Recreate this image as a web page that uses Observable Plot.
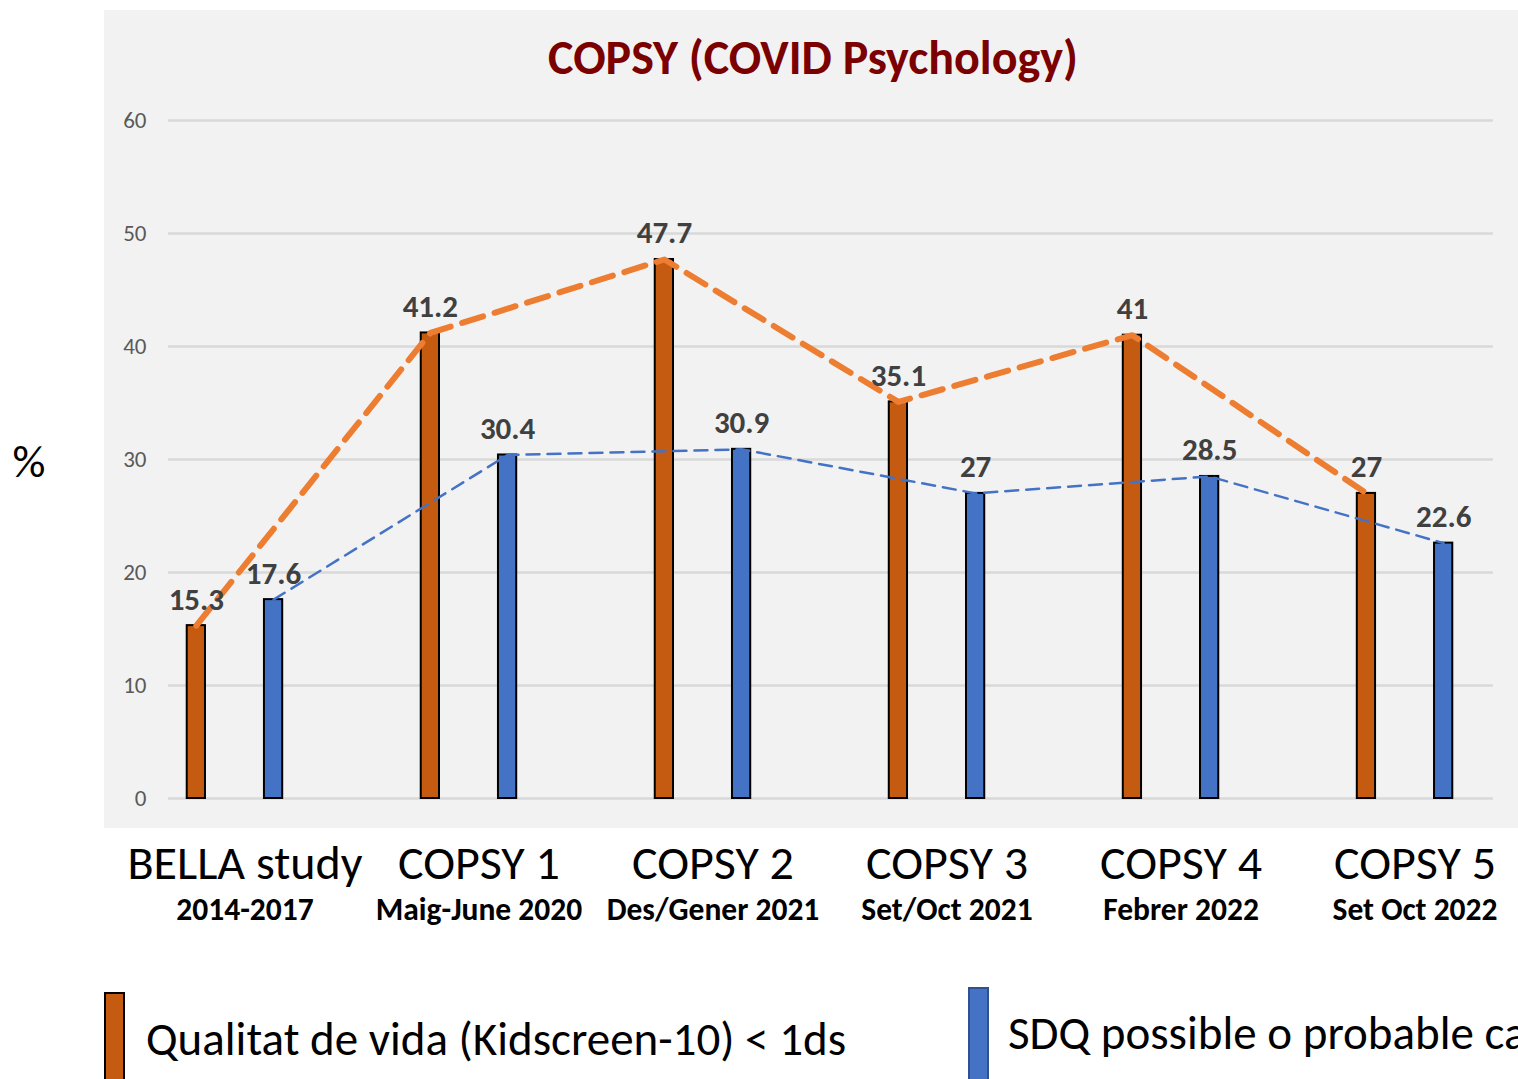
<!DOCTYPE html>
<html>
<head>
<meta charset="utf-8">
<script src="https://cdn.jsdelivr.net/npm/d3@7"></script>
<script src="https://cdn.jsdelivr.net/npm/@observablehq/plot@0.6"></script>
<style>
  html, body { margin:0; padding:0; background:#fff; overflow:hidden; width:1518px; height:1079px; }
  #wrap { position:relative; width:1518px; height:1079px; overflow:hidden; font-family: Calibri, Carlito, Lato, sans-serif; }
  #panel { position:absolute; left:104px; top:10px; width:1414px; height:818px; background:#f2f2f2; }
  #chart { position:absolute; left:0; top:0; }
  #title { position:absolute; left:0; width:1626px; top:32px; text-align:center; font-weight:bold; font-size:48px; line-height:1.1; color:#7b0000; white-space:nowrap; }
  .sw { position:absolute; width:21px; height:110px; box-sizing:border-box; }
  .lt { position:absolute; font-size:47px; color:#000; white-space:nowrap; line-height:1; }
</style>
</head>
<body>
<div id="wrap">
  <div id="panel"></div>
  <div id="chart"></div>
  <div id="title"></div>
  <div id="legend"></div>
</div>
<script>
const chartTitle = "COPSY (COVID Psychology)";
const categories = ["BELLA study", "COPSY 1", "COPSY 2", "COPSY 3", "COPSY 4", "COPSY 5"];
const periods = ["2014-2017", "Maig-June 2020", "Des/Gener 2021", "Set/Oct 2021", "Febrer 2022", "Set Oct 2022"];
const qualitat = [15.3, 41.2, 47.7, 35.1, 41, 27];
const sdq = [17.6, 30.4, 30.9, 27, 28.5, 22.6];
const seriesNames = ["Qualitat de vida (Kidscreen-10) < 1ds", "SDQ possible o probable cas"];
const yTicks = [0, 10, 20, 30, 40, 50, 60];
const yLabel = "%";

const colQ = "#c55a11", colS = "#4472c4";
const off = 0.165, hw = 0.039;

const rowsQ = qualitat.map((v, i) => ({i, v, x: i - off}));
const rowsS = sdq.map((v, i) => ({i, v, x: i + off}));
const font = "Calibri, Carlito, Lato, sans-serif";

const plot = Plot.plot({
  width: 1518,
  height: 940,
  marginLeft: 168,
  marginRight: 25,
  marginTop: 120,
  marginBottom: 142,
  style: {background: "transparent", fontFamily: font, overflow: "visible"},
  x: {type: "linear", domain: [-0.284, 5.378], axis: null},
  y: {domain: [0, 60], label: null, axis: null},
  marks: [
    Plot.gridY(yTicks, {stroke: "#d9d9d9", strokeOpacity: 1, strokeWidth: 2.5}),
    Plot.axisY(yTicks, {tickSize: 0, tickPadding: 22, fontSize: 23, color: "#595959", label: null}),
    Plot.rectY(rowsQ, {x1: d => d.x - hw, x2: d => d.x + hw, y1: 0, y2: "v", fill: colQ, stroke: "#000", strokeWidth: 2}),
    Plot.rectY(rowsS, {x1: d => d.x - hw, x2: d => d.x + hw, y1: 0, y2: "v", fill: colS, stroke: "#000", strokeWidth: 2}),
    Plot.line(rowsS, {x: "x", y: "v", stroke: colS, strokeWidth: 2.5, strokeDasharray: "13,8"}),
    Plot.line(rowsQ, {x: "x", y: "v", stroke: "#ed7d31", strokeWidth: 6, strokeDasharray: "22,12"}),
    Plot.text(rowsQ, {x: "x", y: "v", text: d => String(d.v), dy: -16, lineAnchor: "bottom", fontSize: 31, fontWeight: "bold", fill: "#404040"}),
    Plot.text(rowsS, {x: "x", y: "v", text: d => String(d.v), dy: -16, lineAnchor: "bottom", fontSize: 31, fontWeight: "bold", fill: "#404040"}),
    Plot.text(categories, {x: (d, i) => i, text: d => d, frameAnchor: "bottom", dx: 10, dy: 80, fontSize: 48, fill: "#000"}),
    Plot.text(periods, {x: (d, i) => i, text: d => d, frameAnchor: "bottom", dx: 10, dy: 121, fontSize: 31.5, fontWeight: "bold", fill: "#000"}),
    Plot.text([yLabel], {frameAnchor: "left", text: d => d, dx: -156, dy: 3, fontSize: 46, fill: "#000"})
  ]
});
document.getElementById("chart").appendChild(plot);
document.getElementById("title").textContent = chartTitle;

const legend = document.getElementById("legend");
const items = [
  {name: seriesNames[0], fill: colQ, border: "#000", sx: 104, sy: 992, tx: 146, ty: 1016},
  {name: seriesNames[1], fill: colS, border: "#2f528f", sx: 968, sy: 987, tx: 1008, ty: 1010}
];
items.forEach(it => {
  const sw = document.createElement("div");
  sw.className = "sw";
  sw.style.left = it.sx + "px"; sw.style.top = it.sy + "px";
  sw.style.background = it.fill; sw.style.border = "2px solid " + it.border;
  legend.appendChild(sw);
  const t = document.createElement("div");
  t.className = "lt";
  t.style.left = it.tx + "px"; t.style.top = it.ty + "px";
  t.textContent = it.name;
  legend.appendChild(t);
});
</script>
</body>
</html>
